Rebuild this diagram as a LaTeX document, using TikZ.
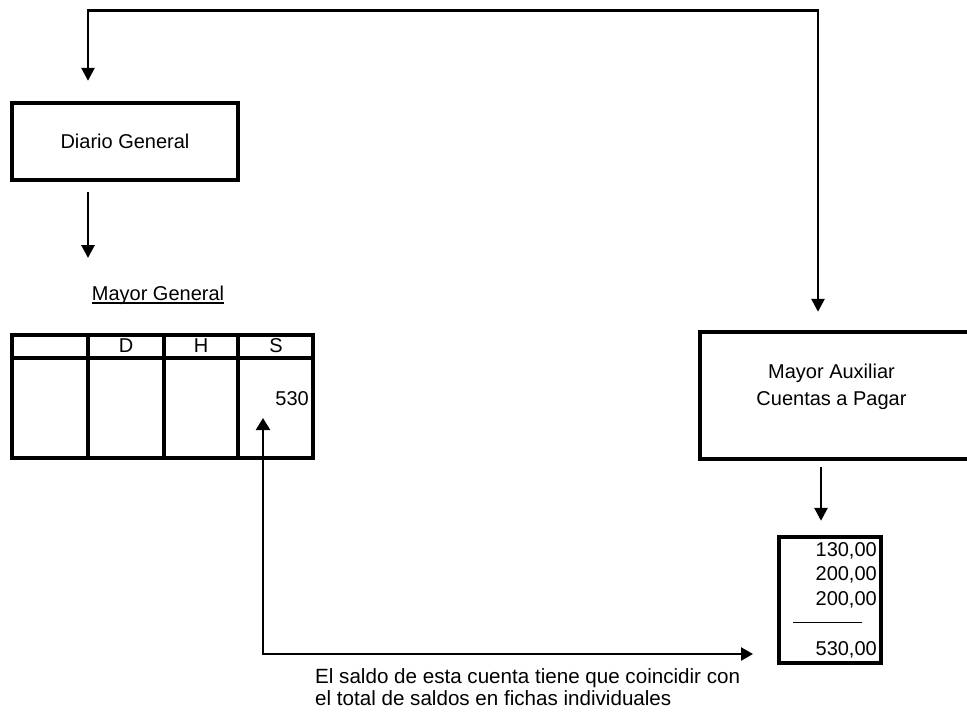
\documentclass[tikz,border=0pt]{standalone}
\usepackage{fontspec}
\setmainfont{Liberation Sans}
\usetikzlibrary{arrows.meta}

\tikzset{
  txt/.style={inner sep=0pt, font=\fontsize{20}{23}\selectfont},
  captxt/.style={inner sep=0pt, font=\fontsize{20.6}{23}\selectfont},
  boxline/.style={draw, line width=4.4pt},
  frame/.style={boxline, inner sep=0pt},
  conn/.style={line width=2.8pt, -{Triangle[length=13pt,width=13pt]}},
  connboth/.style={line width=2.6pt, {Triangle[length=13pt,width=13pt]}-{Triangle[length=13pt,width=13pt]}},
  connthin/.style={line width=2.2pt, {Triangle[length=12pt,width=14pt]}-{Triangle[length=12pt,width=13pt]}},
}

\begin{document}
\begin{tikzpicture}[x=1pt, y=-1pt]
  \useasboundingbox (0,0) rectangle (967,716);
  \fill[white] (0,0) rectangle (967,716);
  \clip (0,0) rectangle (967,716);

  % Diario General
  \node[frame, minimum width=226pt, minimum height=77pt] (diario) at (125,141.5) {};
  \node[txt, anchor=base] (diariotxt) at (125,148) {Diario General};

  % Mayor General ledger
  \node[txt, anchor=base] (mgtitle) at (158,300.5) {Mayor General};
  \draw[line width=1.3pt] ([yshift=-2.6pt]mgtitle.base west) -- ([yshift=-2.6pt]mgtitle.base east);

  \node[frame, minimum width=301pt, minimum height=123pt] (ledger) at (162.5,396.5) {};
  \draw[boxline] (ledger.west |- 0,358) -- (ledger.east |- 0,358);
  \foreach \cx in {88,164,238}
    \draw[boxline] (ledger.north -| \cx,0) -- (ledger.south -| \cx,0);
  \node[txt, anchor=base] (hD) at (126,352) {D};
  \node[txt, anchor=base] (hH) at (201,352) {H};
  \node[txt, anchor=base] (hS) at (276,352) {S};
  \node[txt, anchor=base east] (v530) at (309,405) {530};

  % Mayor Auxiliar (box runs past the right margin)
  \node[minimum width=264pt, minimum height=127pt, inner sep=0pt] (aux) at (832,395.5) {};
  \draw[boxline] ([xshift=40pt]aux.north east) -- (aux.north west) -- (aux.south west) -- ([xshift=40pt]aux.south east);
  \node[txt, anchor=base] (auxtxt1) at (831.5,378.3) {Mayor Auxiliar};
  \node[txt, anchor=base] (auxtxt2) at (831.5,405) {Cuentas a Pagar};

  % individual cards total
  \node[frame, minimum width=102pt, minimum height=126pt] (fichas) at (830,600) {};
  \node[txt, anchor=base east] (f1) at (877,556.7) {130,00};
  \node[txt, anchor=base east] (f2) at (877,580.7) {200,00};
  \node[txt, anchor=base east] (f3) at (877,605) {200,00};
  \draw[line width=1pt] (793,622) -- (862,622);
  \node[txt, anchor=base east] (ftot) at (877,655.7) {530,00};

  % caption
  \node[captxt, anchor=base west] (cap1) at (315,683) {El saldo de esta cuenta tiene que coincidir con};
  \node[captxt, anchor=base west] (cap2) at (315,705) {el total de saldos en fichas individuales};

  % connectors
  \coordinate (topL) at (88,10.5);
  \coordinate (topR) at (818,10.5);
  \draw[connboth, shorten <=20pt, shorten >=20pt]
    (diario.north -| topL) |- (topR) -- (aux.north -| topR);

  \coordinate (ledgerIn) at (88,258);
  \draw[conn, shorten <=10pt] (diario.south -| ledgerIn) -- (ledgerIn);

  \draw[conn, shorten <=8pt, shorten >=14pt]
    ([xshift=-11pt]aux.south) -- ([xshift=-11pt]aux.south |- fichas.north);

  \coordinate (saldoTip) at (263,418);
  \coordinate (sumTip) at (753,654);
  \draw[connthin] (saldoTip) |- (sumTip);
\end{tikzpicture}
\end{document}
